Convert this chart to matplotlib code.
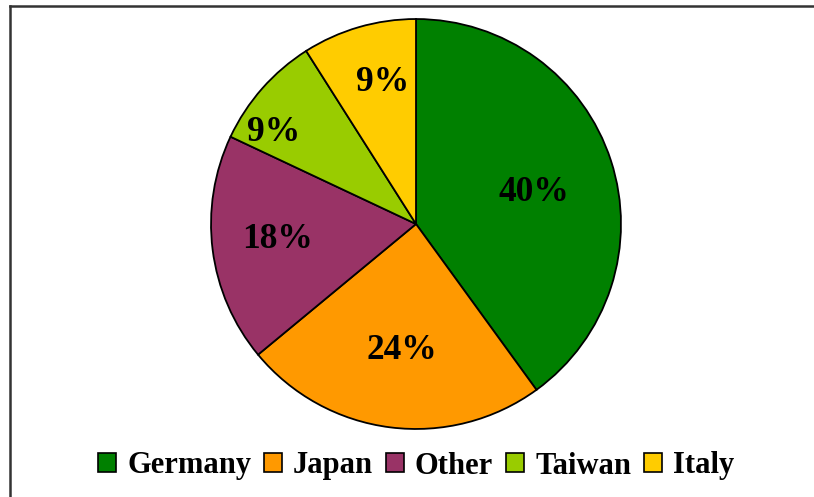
import matplotlib
matplotlib.use("Agg")
from matplotlib import pyplot as plt
from matplotlib.patches import Patch
from matplotlib.lines import Line2D
import numpy as np

plt.rcParams['font.family'] = ['Liberation Serif', 'DejaVu Serif']

countries = ["Germany", "Japan", "Other", "Taiwan", "Italy"]
shares = [40, 24, 18, 9, 9]
colors = ["#008000", "#FF9900", "#993366", "#99CC00", "#FFCC00"]
# label placement: fraction of radius, and angle nudge (deg) from wedge middle
label_dist = [0.60, 0.60, 0.68, 0.835, 0.73]
label_nudge = [-1, 0.5, -2.3, 7.5, -3.5]

W, H = 814, 497
fig = plt.figure(figsize=(W / 100, H / 100), dpi=100)

# pie center ~(416, 224) px, radius ~206 px
cx, cy, r = 416, 224, 206
ax = fig.add_axes([(cx - r) / W, (H - cy - r) / H, 2 * r / W, 2 * r / H])
wedges, texts, autotexts = ax.pie(
    shares, colors=colors, startangle=90, counterclock=False,
    autopct="%d%%", pctdistance=0.6,
    wedgeprops={"edgecolor": "black", "linewidth": 1.3},
    textprops={"fontsize": 25.5, "fontweight": "bold", "color": "black"},
)
for w, t, d, n in zip(wedges, autotexts, label_dist, label_nudge):
    ang = np.deg2rad((w.theta1 + w.theta2) / 2 + n)
    t.set_position((d * np.cos(ang), d * np.sin(ang)))
    t.set_va("center_baseline")
ax.set_xlim(-1.005, 1.005)
ax.set_ylim(-1.005, 1.005)
ax.set_aspect("auto")
ax.axis("off")

# outer frame (only top/left visible in the reference)
fig.add_artist(Line2D([10 / W, 1], [1 - 6 / H, 1 - 6 / H], color="#333333", lw=1.8))
fig.add_artist(Line2D([10 / W, 10 / W], [0, 1 - 6 / H], color="#333333", lw=1.8))

handles = [Patch(facecolor=c, edgecolor="black", linewidth=1.2) for c in colors]
fig.legend(handles, countries, loc="center", bbox_to_anchor=(416 / W, 1 - 466 / H),
           ncol=5, frameon=False, handlelength=0.58, handleheight=0.6,
           handletextpad=0.37, columnspacing=0.42, borderpad=0,
           prop={"size": 22, "weight": "bold"})

fig.savefig("out.png", dpi=100)
